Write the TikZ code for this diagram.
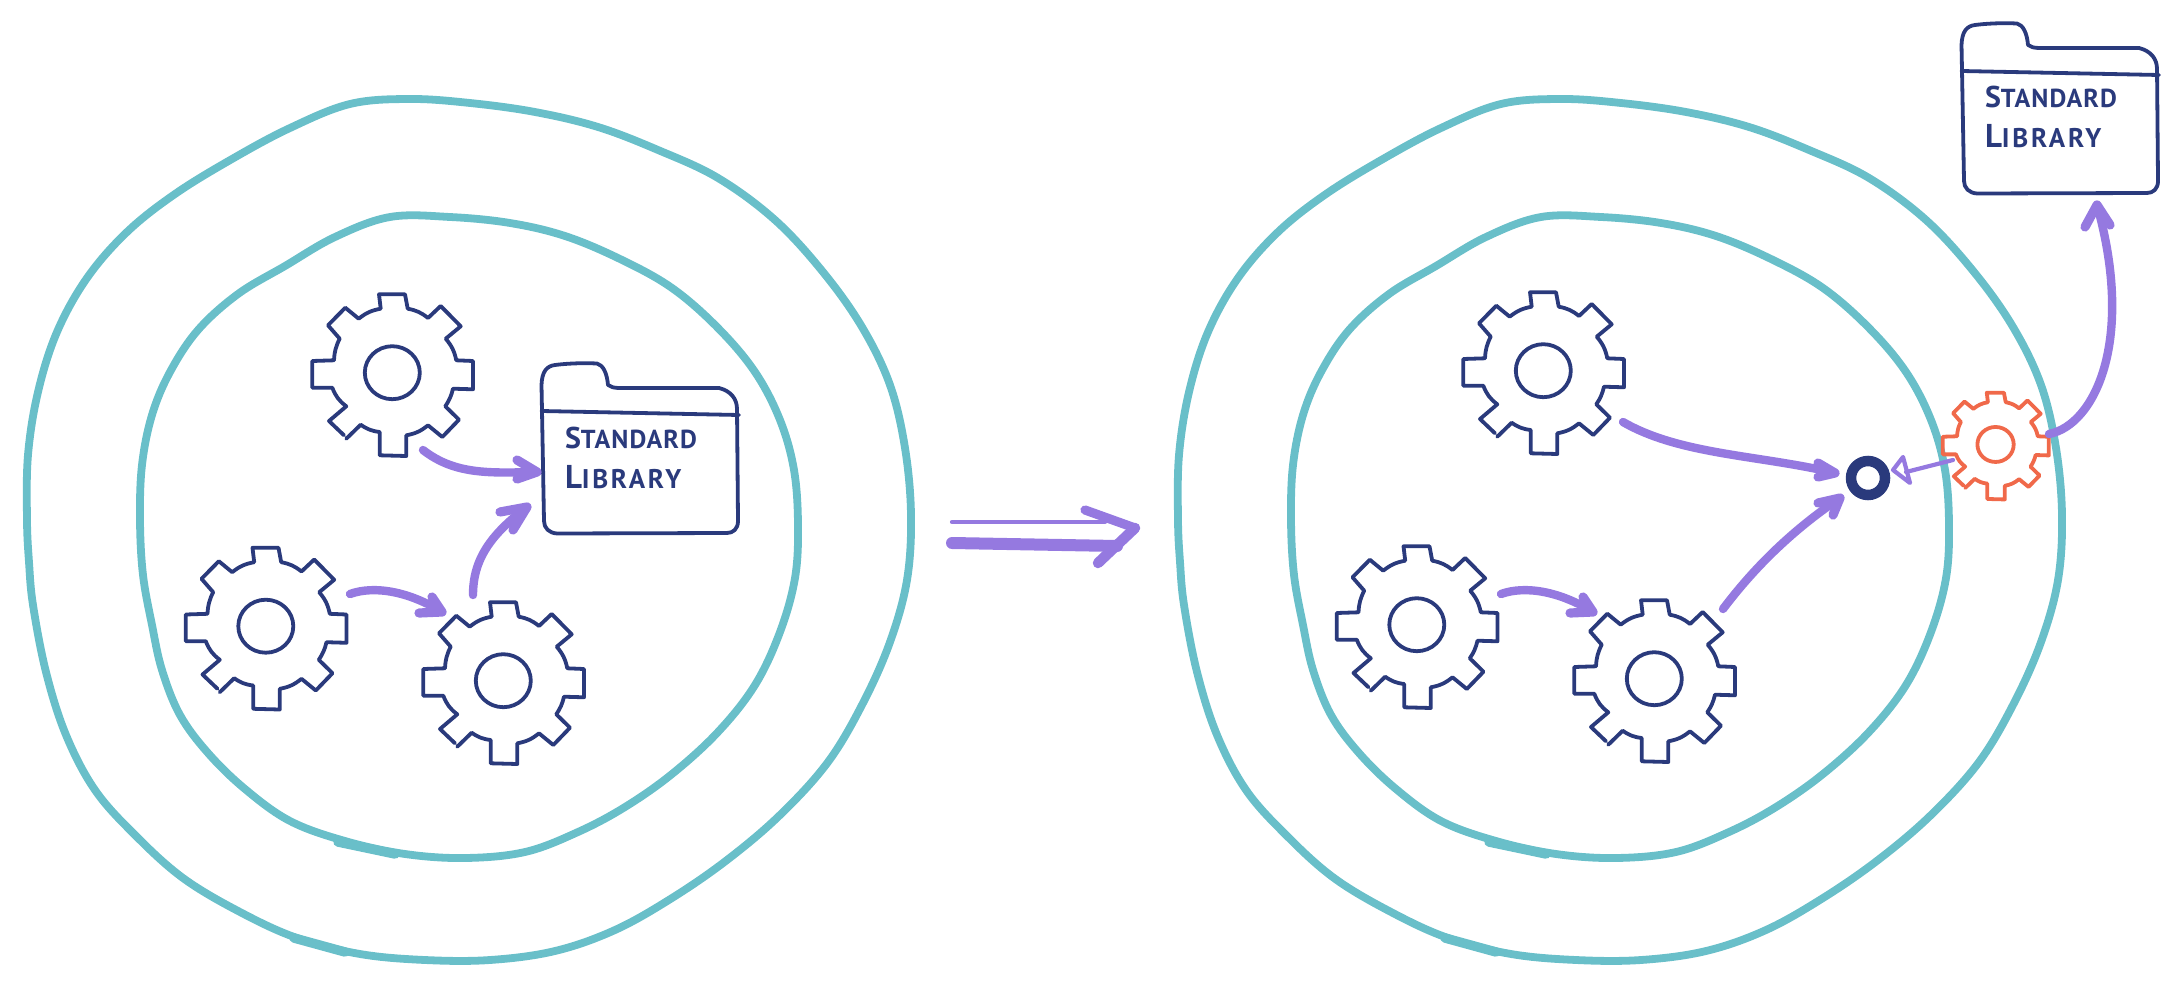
\documentclass[tikz,border=0pt]{standalone}
\usepackage{fontspec}
\setmainfont{PT Sans}
\definecolor{teal}{HTML}{69BFC9}
\definecolor{navy}{HTML}{2A3A7C}
\definecolor{violet}{HTML}{9579E0}
\definecolor{coral}{HTML}{F0694A}
\tikzset{
  ringline/.style={draw=teal,line width=7.8pt,line join=round,line cap=round},
  gearline/.style={line width=3.8pt,line join=round,line cap=round},
  folderline/.style={draw=navy,line width=3.8pt,line join=round,line cap=round},
  conn/.style={draw=violet,line width=8.4pt,line cap=round},
  headline/.style={draw=violet,line width=9.2pt,line cap=round,line join=round},
  thinconn/.style={draw=violet,line width=4.2pt,line cap=round,line join=round},
  lettering/.style={text=navy,anchor=base west,inner sep=0pt,outer sep=0pt,font=\bfseries},
}
\newcommand{\cogat}[5]{%
  \begin{scope}[shift={(#2,#3)},scale=#4]
    \coordinate (#1) at (0,0);
    \draw[gearline,draw=#5]
      (-46.7,66.7) -- (-32.3,52.7)
      (-49,63.3) -- (-64,49) -- (-46.7,34.3) to[bend left=16] (-60.7,15.7)
      -- (-80.7,15.7) -- (-80.7,-11) -- (-59,-11.7) to[bend left=12] (-53.3,-33.3)
      -- (-65,-46.7) -- (-47.7,-64.3) -- (-34.3,-53.3) to[bend left=14] (-12.3,-63.3)
      -- (-14,-77.7) -- (12,-77.7) -- (14.7,-63.3) to[bend left=14] (35,-54)
      -- (47.7,-66) -- (67.7,-45.7) -- (52.7,-33.3) to[bend left=14] (63.3,-11.7)
      -- (80,-11) -- (80,17.3) -- (60,16.7) to[bend left=10] (52.3,34.3)
      -- (66,47.7) -- (49.3,65) -- (35,53.3) to[bend left=14] (13.3,63.3)
      -- (13.3,84) -- (-13.3,83.3) -- (-13.3,60) to[bend left=14] (-32.3,52.7);
    \draw[gearline,draw=#5] (-0.7,0.7) ellipse [x radius=27.5,y radius=26.5];
  \end{scope}}
\newcommand{\folderat}[3]{%
  \begin{scope}[shift={(#2,#3)}]
    \coordinate (#1) at (0,0);
    \draw[folderline]
      (1,48) -- (0.5,22) .. controls (1,8) and (6,3) .. (14,2)
      .. controls (30,0) and (45,0) .. (56,0.5)
      .. controls (62,2) and (66,10) .. (67,22)
      .. controls (70,24) and (72,25) .. (80,25)
      -- (178,25) .. controls (190,28) and (196,36) .. (196,46)
      -- (197,158) .. controls (197,166) and (192,170) .. (186,170)
      -- (16,170.5) .. controls (8,170) and (3,165) .. (3,158) -- cycle;
    \draw[folderline] (0.5,48) -- (198,52);
    \node[lettering] (#1a) at (24,85) {\addfontfeature{LetterSpace=4}\fontsize{30}{30}\selectfont S\fontsize{26}{30}\selectfont TANDARD};
    \node[lettering] (#1b) at (24,125) {\addfontfeature{LetterSpace=10}\fontsize{33}{30}\selectfont L\fontsize{27}{30}\selectfont IBRARY};
  \end{scope}}
\newcommand{\ringsat}[1]{%
  \begin{scope}[xshift=#1pt]
    \draw[ringline] plot[smooth cycle,tension=0.6] coordinates {
      (27,520)(28,455)(38,392)(57,332)(87,278)(127,232)(175,194)(232,159)(290,128)(350,104)(410,99)
      (470,103)(535,112)(598,127)(658,150)(718,178)(775,220)(823,272)(862,327)(890,385)(905,448)(911,515)
      (907,580)(890,642)(863,703)(828,762)(780,815)(727,860)(672,898)(615,930)(555,951)(490,960)(425,960)
      (360,954)(297,938)(240,912)(183,878)(135,835)(95,790)(66,735)(46,672)(33,605)(29,562)};
    \draw[ringline,line width=9.5pt] (294,938) -- (345,952);
    \draw[ringline] plot[smooth cycle,tension=0.6] coordinates {
      (140,520)(142,465)(152,415)(170,372)(198,330)(238,294)(285,266)(335,237)(390,217)(450,217)(510,223)
      (565,236)(620,259)(672,288)(718,328)(755,372)(780,420)(794,470)(798,525)(795,578)(780,632)(755,685)
      (718,732)(672,774)(625,807)(578,832)(525,852)(465,858)(405,854)(345,841)(290,821)(245,789)(208,753)
      (180,715)(162,670)(152,625)(143,575)};
    \draw[ringline,line width=9.5pt] (338,842) -- (395,854);
  \end{scope}}
\begin{document}
\begin{tikzpicture}[x=1pt,y=-1pt]
\useasboundingbox (0,0) rectangle (2183,987);
% rings
\ringsat{0}
\ringsat{1151}
% left group
\cogat{lgA}{393}{372}{1}{navy}
\cogat{lgB}{266.5}{625.5}{1}{navy}
\cogat{lgC}{504}{680}{1}{navy}
\folderat{lf}{541}{363}
% right group
\cogat{rgA}{1544}{370}{1}{navy}
\cogat{rgB}{1417.5}{624}{1}{navy}
\cogat{rgC}{1655}{678}{1}{navy}
\cogat{og}{1996}{444}{0.66}{coral}
\folderat{rf}{1961}{23}
\node[circle,draw=navy,line width=10.5pt,inner sep=0pt,minimum size=34pt] (hub) at (1868,478) {};
% connector ends
\coordinate (a1s) at (423,450); \coordinate (a1t) at (537,472);
\coordinate (a2s) at (473,595); \coordinate (a2t) at (527,507);
\coordinate (a3s) at (350,594); \coordinate (a3t) at (442,612);
\coordinate (c3s) at (1501,594); \coordinate (c3t) at (1593,612);
\coordinate (b1s) at (1623,422); \coordinate (b1t) at (1835,473);
\coordinate (b2s) at (1723,609); \coordinate (b2t) at (1840,498);
\coordinate (b3s) at (2049,434); \coordinate (b3t) at (2097,205);
\coordinate (b4s) at (1953,460); \coordinate (b4t) at (1893,470);
% connectors: left
\draw[conn] (a1s) .. controls (455,475) and (490,473) .. (a1t);
\draw[headline] (517,460) -- (a1t) -- (517,479);
\draw[conn] (a2s) .. controls (473,560) and (490,535) .. (a2t);
\draw[headline] (500,512) -- (a2t) -- (513,530);
\draw[conn] (a3s) .. controls (375,585) and (410,592) .. (a3t);
\draw[headline] (432,597) -- (a3t) -- (419,613);
% middle implication arrow
\coordinate (ms) at (952,522); \coordinate (mt) at (1135,528); \coordinate (ns) at (952,543);
\draw[thinconn] (ms) -- (1105,522);
\draw[conn,line width=12pt] (ns) -- (1117,546);
\draw[headline] (1085,510) -- (mt);
\draw[headline,line width=10.5pt] (mt) -- (1098,563);
% connectors: right
\draw[conn] (c3s) .. controls (1526,585) and (1561,592) .. (c3t);
\draw[headline] (1583,597) -- (c3t) -- (1570,613);
\draw[conn] (b1s) .. controls (1680,455) and (1760,455) .. (b1t);
\draw[headline] (1818,463) -- (b1t) -- (1818,477);
\draw[conn] (b2s) .. controls (1760,560) and (1800,525) .. (b2t);
\draw[headline] (1818,503) -- (b2t) -- (1833,515);
\draw[conn] (b3s) .. controls (2095,425) and (2135,340) .. (b3t);
\draw[headline] (2085,227) -- (b3t) -- (2110,225);
\draw[thinconn] (b4s) -- (1906,472);
\draw[thinconn] (b4t) -- (1903,457) -- (1910,483) -- cycle;
\end{tikzpicture}
\end{document}
